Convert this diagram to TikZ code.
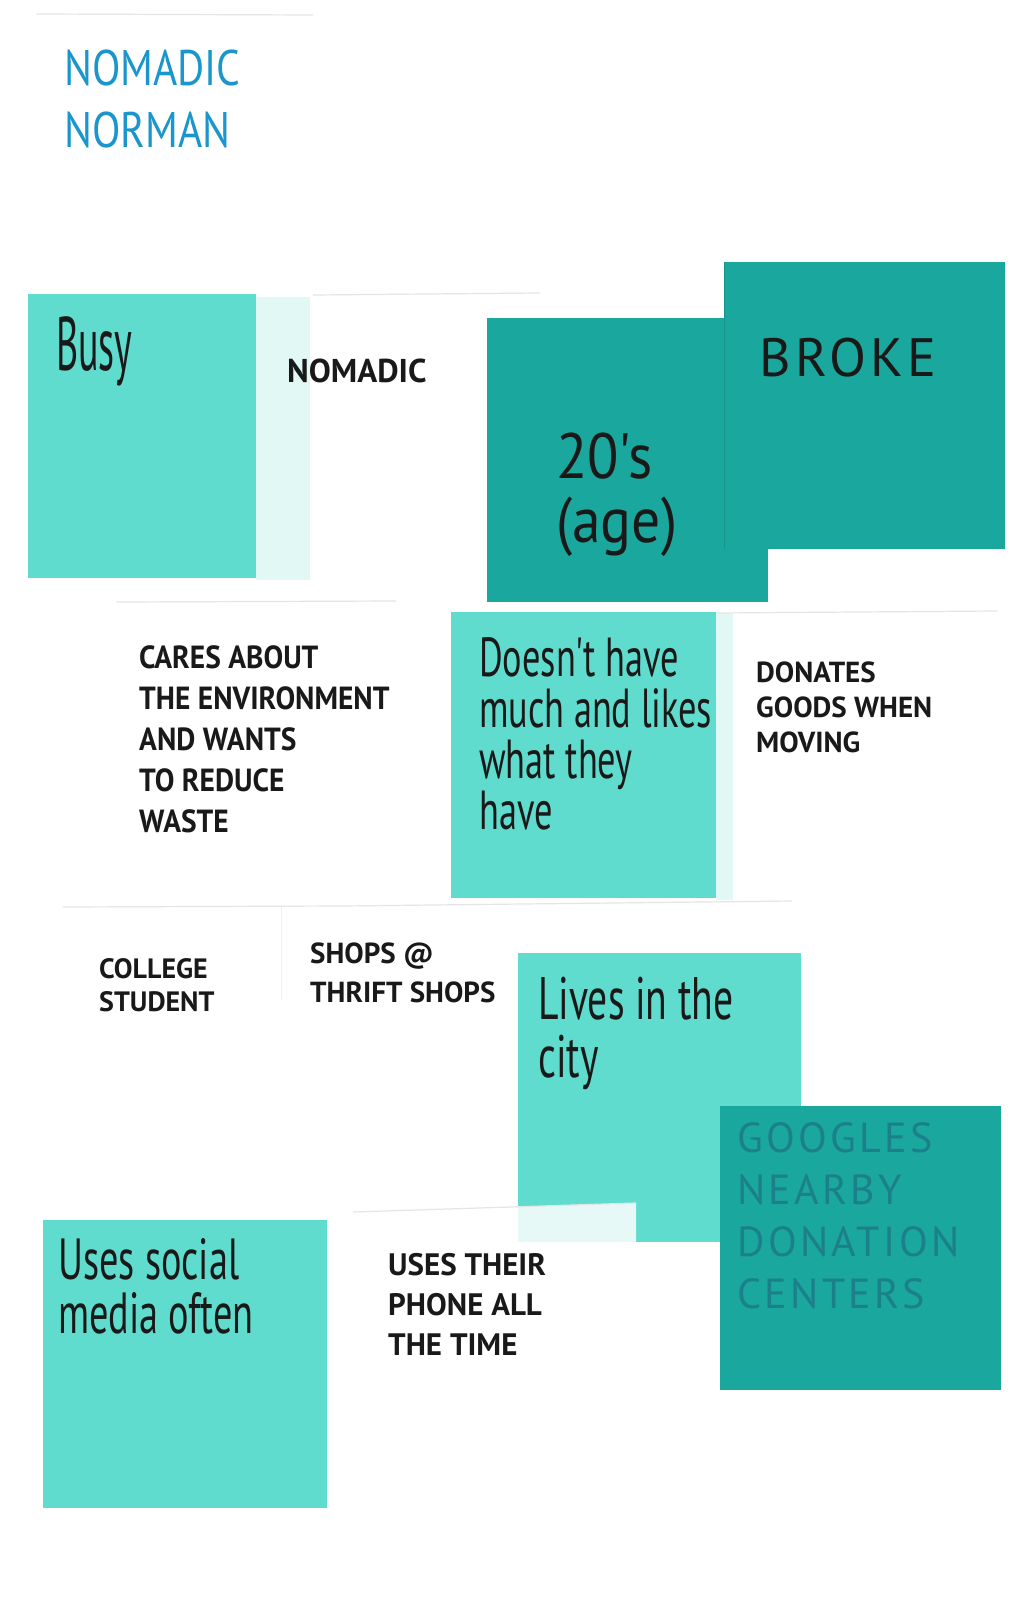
\documentclass[tikz,border=0pt]{standalone}
\usepackage{fontspec}
\setmainfont{PT Sans}
\newfontfamily\titlefont[FakeStretch=0.83]{PT Sans}
\newfontfamily\capsfont{PT Sans}
\newfontfamily\squeezefont[FakeStretch=0.92]{PT Sans}
\newfontfamily\tallfont[FakeStretch=0.66]{PT Sans}
\newfontfamily\narrowfont[FakeStretch=0.5]{PT Sans}
\newfontfamily\thinfont[FakeStretch=0.9]{PT Sans}
\newfontfamily\spacedfont[LetterSpace=8]{PT Sans}

\definecolor{lightnote}{RGB}{96,220,206}
\definecolor{darknote}{RGB}{26,167,157}
\definecolor{mintstrip}{RGB}{226,248,244}
\definecolor{titleblue}{RGB}{26,150,204}
\definecolor{inkteal}{RGB}{28,128,138}
\definecolor{ink}{RGB}{25,25,25}

\tikzset{
  light/.style={fill=lightnote},
  dark/.style={fill=darknote},
  paperedge/.style={draw=black!10, line width=1.2pt},
  words/.style={anchor=north west, inner sep=0pt, align=left, text=ink},
}

\begin{document}
\begin{tikzpicture}[x=1pt,y=-1pt]
                % Page
                \fill[white] (0,0) rectangle (1035,1600);
                \useasboundingbox (0,0) rectangle (1035,1600);

                % Title
                \draw[paperedge] (36,14) -- (313,15);
                \node[words, text=titleblue, font=\titlefont\fontsize{50}{62}\selectfont] (title) at (64,50) {NOMADIC\\NORMAN};

                % First row of notes
                \draw[paperedge] (313,295) -- (540,293);
                \fill[mintstrip] (256,297) rectangle (310,580);
                \fill[light] (28,294) rectangle (256,578);
                \node[words, font=\narrowfont\fontsize{76}{76}\selectfont] (busy) at (56,316) {Busy};
                \node[words, font=\capsfont\bfseries\fontsize{33}{40}\selectfont] (nomadic) at (287,359) {NOMADIC};
                \fill[dark] (487,318) rectangle (768,602);
                \fill[dark] (724,262) rectangle (1005,549);
                \draw[darknote!90!black, line width=0.6pt] (724,262) -- (724,549);
                \node[words, font=\thinfont\fontsize{64}{64}\selectfont] (twenties) at (556,433) {20's\\(age)};
                \node[words, font=\spacedfont\fontsize{54}{54}\selectfont] (broke) at (759,338) {BROKE};

                % Second row of notes
                \draw[paperedge] (116,602) -- (396,601);
                \node[words, font=\squeezefont\bfseries\fontsize{32}{41}\selectfont] (cares) at (139,645) {CARES ABOUT\\THE ENVIRONMENT\\AND WANTS\\TO REDUCE\\WASTE};
                \fill[mintstrip] (716,613) rectangle (733,900);
                \fill[light] (451,612) rectangle (716,898);
                \node[words, font=\tallfont\fontsize{55}{51}\selectfont] (doesnt) at (479,637) {Doesn't have\\much and likes\\what they\\have};
                \draw[paperedge] (716,613) -- (997,611);
                \node[words, font=\capsfont\bfseries\fontsize{29}{35}\selectfont] (donates) at (756,662) {DONATES\\GOODS WHEN\\MOVING};
                \draw[paperedge] (63,907) -- (343,906) -- (792,901);
                \draw[draw=black!6, line width=1pt] (281,907) -- (281,1000);

                % Third row of notes
                \node[words, font=\capsfont\bfseries\fontsize{28}{33}\selectfont] (college) at (99,958) {COLLEGE\\STUDENT};
                \node[words, font=\capsfont\bfseries\fontsize{29}{39}\selectfont] (shops) at (310,943) {SHOPS @\\THRIFT SHOPS};
                \fill[light] (518,953) rectangle (801,1242);
                \node[words, font=\tallfont\fontsize{60}{58}\selectfont] (lives) at (538,977) {Lives in the\\city};
                \fill[dark] (720,1106) rectangle (1001,1390);
                \node[words, text=inkteal, font=\spacedfont\fontsize{42}{52}\selectfont] (googles) at (737,1122) {GOOGLES\\NEARBY\\DONATION\\CENTERS};

                % Last row of notes
                \fill[light] (43,1220) rectangle (327,1508);
                \node[words, font=\tallfont\fontsize{58}{54}\selectfont] (social) at (58,1238) {Uses social\\media often};
                \fill[white, fill opacity=0.85] (353,1212) -- (636,1203) -- (636,1395) -- (353,1400) -- cycle;
                \draw[paperedge] (353,1212) -- (636,1203);
                \node[words, font=\capsfont\bfseries\fontsize{31}{40}\selectfont] (phone) at (388,1253) {USES THEIR\\PHONE ALL\\THE TIME};

            \end{tikzpicture}
\end{document}
